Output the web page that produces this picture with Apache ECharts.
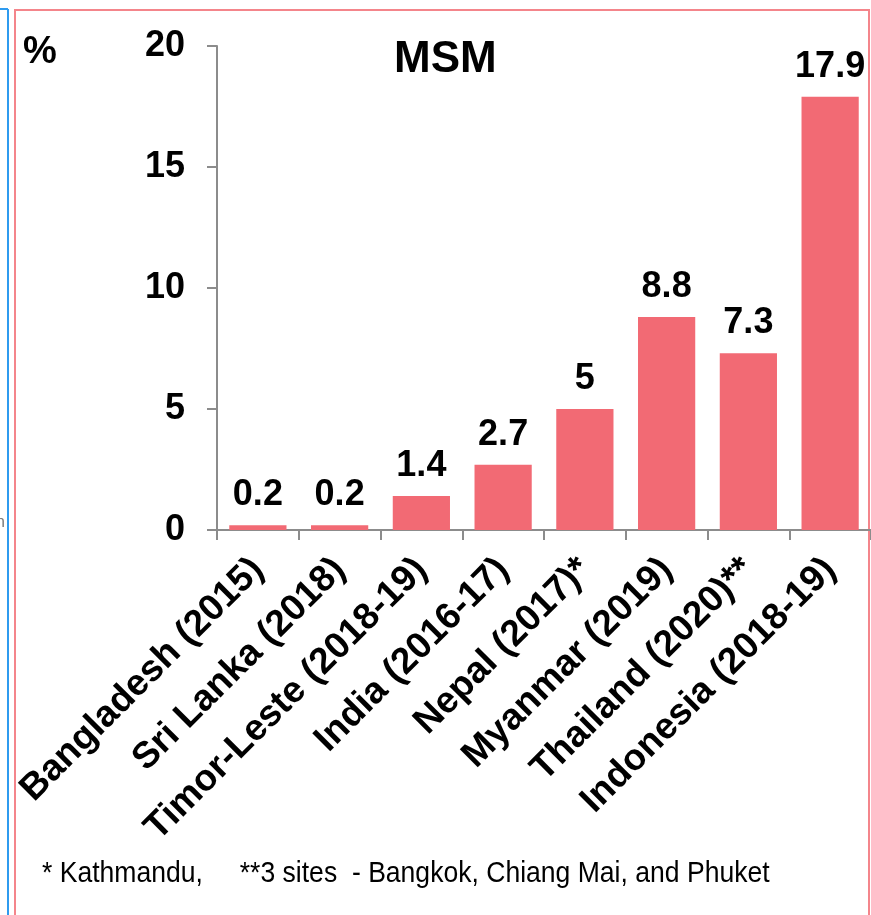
<!DOCTYPE html>
<html>
<head>
<meta charset="utf-8">
<script src="https://cdn.jsdelivr.net/npm/echarts@6/dist/echarts.min.js"></script>
<style>
  html, body { margin: 0; padding: 0; background: #fff; }
  #chart { width: 871px; height: 915px; }
</style>
</head>
<body>
<div id="chart"></div>
<script>
// MSM prevalence by country and survey year (%)
const categories = [
  'Bangladesh (2015)',
  'Sri Lanka (2018)',
  'Timor-Leste (2018-19)',
  'India (2016-17)',
  'Nepal (2017)*',
  'Myanmar (2019)',
  'Thailand (2020)**',
  'Indonesia (2018-19)'
];
const msmValues = [0.2, 0.2, 1.4, 2.7, 5, 8.8, 7.3, 17.9];
const yTicks = [0, 5, 10, 15, 20];
const footnote = '* Kathmandu,     **3 sites  - Bangkok, Chiang Mai, and Phuket';

const FONT = '"Liberation Sans", Arial, Helvetica, sans-serif';
const chart = echarts.init(document.getElementById('chart'), null, { renderer: 'canvas' });

chart.setOption({
  backgroundColor: '#ffffff',
  animation: false,
  title: {
    text: 'MSM',
    left: 389,
    top: 33,
    textStyle: { fontFamily: FONT, fontWeight: 'bold', fontSize: 44, color: '#000' }
  },
  grid: { left: 217, top: 46, bottom: 385, right: -4, containLabel: false },
  xAxis: {
    type: 'category',
    data: categories,
    axisLine: { lineStyle: { color: '#8c8c8c', width: 2 } },
    axisTick: { show: true, alignWithLabel: false, length: 10, lineStyle: { color: '#8c8c8c', width: 2 } },
    axisLabel: {
      interval: 0,
      rotate: 45,
      margin: 34,
      fontFamily: FONT,
      fontWeight: 'bold',
      fontSize: 37,
      color: '#000'
    }
  },
  yAxis: {
    type: 'value',
    min: yTicks[0],
    max: yTicks[yTicks.length - 1],
    interval: yTicks[1] - yTicks[0],
    splitLine: { show: false },
    axisLine: { show: true, lineStyle: { color: '#8c8c8c', width: 2 } },
    axisTick: { show: true, length: 10, lineStyle: { color: '#8c8c8c', width: 2 } },
    axisLabel: {
      margin: 32,
      fontFamily: FONT,
      fontWeight: 'bold',
      fontSize: 36,
      color: '#000'
    }
  },
  series: [{
    type: 'bar',
    data: msmValues,
    barCategoryGap: '30%',
    itemStyle: { color: '#F26A74' },
    label: {
      show: true,
      position: 'top',
      distance: 12,
      fontFamily: FONT,
      fontWeight: 'bold',
      fontSize: 36,
      color: '#000'
    }
  }],
  graphic: [
    // outer frames
    { type: 'line', shape: { x1: 0, y1: 9, x2: 8, y2: 9 }, style: { stroke: '#2F9BEF', lineWidth: 2 } },
    { type: 'line', shape: { x1: 8, y1: 9, x2: 8, y2: 915 }, style: { stroke: '#2F9BEF', lineWidth: 2 } },
    { type: 'polyline', shape: { points: [[15, 915], [15, 10], [869, 10], [869, 915]] }, style: { stroke: '#F4858B', lineWidth: 2, fill: null } },
    // partially hidden text at the left edge
    { type: 'text', left: -4, top: 515, style: { text: 'n', fontFamily: FONT, fontSize: 16, fill: '#777' } },
    // unit label
    { type: 'text', left: 23, top: 34, style: { text: '%', fontFamily: FONT, fontWeight: 'bold', fontSize: 38, fill: '#000' } },
    // footnote, horizontally condensed
    { type: 'text', x: 42, y: 859, scaleX: 0.885, scaleY: 1,
      style: { text: footnote, fontFamily: FONT, fontSize: 30, fill: '#000' } }
  ]
});
</script>
</body>
</html>
